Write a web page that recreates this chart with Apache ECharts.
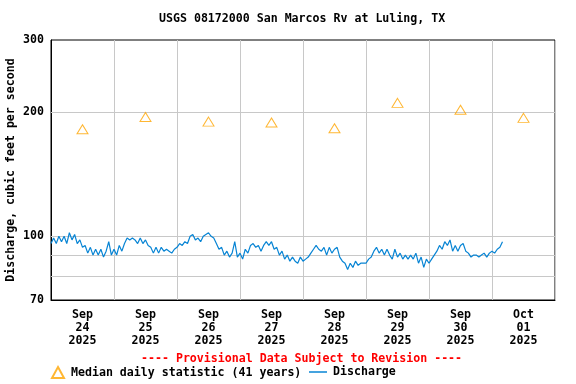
<!DOCTYPE html>
<html>
<head>
<meta charset="utf-8">
<script src="https://cdn.jsdelivr.net/npm/echarts@6/dist/echarts.min.js"></script>
<style>
html,body{margin:0;padding:0;background:#fff;}
#chart{width:576px;height:384px;}
</style>
</head>
<body>
<div id="chart"></div>
<script>
// ---- data ----
const titleText = 'USGS 08172000 San Marcos Rv at Luling, TX';
const provisionalText = '---- Provisional Data Subject to Revision ----';
const yAxisTitle = 'Discharge, cubic feet per second';
const tickMonths = ['Sep', 'Sep', 'Sep', 'Sep', 'Sep', 'Sep', 'Sep', 'Oct'];
const tickDays = ['24', '25', '26', '27', '28', '29', '30', '01'];
const tickYears = ['2025', '2025', '2025', '2025', '2025', '2025', '2025', '2025'];
const yTickLabels = [70, 100, 200, 300];
const yGridValues = [80, 90, 100, 200];
// median daily statistic, one per day (plotted at noon)
const medianDaily = [182, 195, 190, 189, 183, 211, 203, 194];
// discharge, hourly from Sep 24 00:00
const dischargeHourly = [
  96, 99, 96, 100, 97, 100, 96, 102, 98, 101, 96, 98,
  94, 95, 91, 94, 90, 93, 90, 93, 89, 92, 97, 90,
  93, 90, 95, 92, 96, 99, 98, 99, 98, 96, 99, 96,
  98, 95, 94, 91, 94, 91, 94, 92, 93, 92, 91, 93,
  94, 96, 95, 97, 96, 100, 101, 98, 99, 97, 100, 101,
  102, 100, 99, 96, 93, 94, 90, 92, 89, 91, 97, 89,
  91, 88, 93, 91, 95, 96, 94, 95, 92, 95, 97, 95,
  97, 93, 94, 90, 92, 88, 90, 87, 89, 87, 86, 89,
  87, 88, 89, 91, 93, 95, 93, 92, 94, 90, 94, 91,
  93, 94, 89, 87, 86, 83, 86, 84, 87, 85, 86, 86,
  86, 88, 89, 92, 94, 91, 93, 90, 93, 90, 88, 93,
  89, 91, 88, 90, 88, 90, 88, 91, 86, 89, 84, 88,
  86, 88, 90, 92, 95, 93, 97, 95, 98, 92, 95, 92,
  95, 96, 92, 91, 89, 90, 90, 89, 90, 91, 89, 91,
  92, 91, 93, 94, 97
];

const FONT = 'DejaVu Sans Mono';
const FS = 11.6;
const HOURS_PER_DAY = 24;
const totalHours = tickDays.length * HOURS_PER_DAY;
const LINE_COLOR = '#0784d4';
const MED_COLOR = '#ffa500';

const dischargeData = dischargeHourly.map((v, i) => [i, v]);
const medianData = medianDaily.map((v, i) => [i * HOURS_PER_DAY + 12, v]);
const textStyle = {fontFamily: FONT, fontSize: FS, fontWeight: 'bold', color: '#000'};

const chart = echarts.init(document.getElementById('chart'), null, {renderer: 'canvas'});
chart.setOption({
  animation: false,
  backgroundColor: '#fff',
  title: [
    {text: titleText, left: 159, top: 13, padding: 0,
     textStyle: Object.assign({}, textStyle)},
    {text: provisionalText, left: 141, top: 353, padding: 0,
     textStyle: Object.assign({}, textStyle, {color: '#ff0000'})}
  ],
  legend: [
    {data: [{name: 'Median daily statistic (41 years)', icon: 'emptyTriangle',
             itemStyle: {color: MED_COLOR, borderColor: MED_COLOR, borderWidth: 1}}],
     left: 51, top: 366, padding: 0, itemWidth: 12, itemHeight: 11, itemGap: 8,
     itemStyle: {color: MED_COLOR, borderColor: MED_COLOR, borderWidth: 1},
     textStyle: Object.assign({}, textStyle, {padding: [0, 0, 0, 2]})},
    {data: [{name: 'Discharge', icon: 'rect', itemStyle: {color: LINE_COLOR}}],
     left: 309, top: 366, padding: 0, itemWidth: 18, itemHeight: 1.5,
     textStyle: Object.assign({}, textStyle, {padding: [0, 0, 0, 1]})}
  ],
  grid: {left: 51, right: 21, top: 40, bottom: 84, show: true,
         outerBoundsMode: 'none', containLabel: false,
         borderColor: '#000', borderWidth: 1, backgroundColor: 'transparent'},
  xAxis: [
    {type: 'value', min: 0, max: totalHours, interval: HOURS_PER_DAY,
     axisLine: {show: true, lineStyle: {color: '#000'}},
     axisTick: {show: false}, axisLabel: {show: false},
     splitLine: {show: true, lineStyle: {color: '#c8c8c8', width: 1}}},
    {type: 'value', min: 0, max: totalHours, interval: HOURS_PER_DAY / 2, position: 'bottom',
     axisLine: {show: false}, axisTick: {show: false}, splitLine: {show: false},
     axisLabel: Object.assign({show: true, margin: 8, lineHeight: 13,
       formatter: function (v) {
         if (v % HOURS_PER_DAY !== 12) return '';
         const k = Math.floor(v / HOURS_PER_DAY);
         return tickMonths[k] + '\n' + tickDays[k] + '\n' + tickYears[k];
       }}, textStyle)}
  ],
  yAxis: {
    type: 'log', logBase: 10, min: 70, max: 300,
    name: yAxisTitle, nameLocation: 'middle', nameGap: 34, nameRotate: 90,
    nameTextStyle: Object.assign({}, textStyle),
    axisLine: {show: true, lineStyle: {color: '#000'}},
    axisTick: {show: false}, axisLabel: {show: false}, splitLine: {show: false}
  },
  series: [
    {name: 'Discharge', type: 'line', data: dischargeData, xAxisIndex: 0,
     symbol: 'none', showSymbol: false, z: 3,
     lineStyle: {color: LINE_COLOR, width: 1.2}, itemStyle: {color: LINE_COLOR},
     markLine: {silent: true, symbol: 'none', z: 1, animation: false,
       lineStyle: {color: '#c8c8c8', type: 'solid', width: 1},
       label: {show: false},
       data: yGridValues.map(v => ({yAxis: v}))}},
    {name: 'Median daily statistic (41 years)', type: 'scatter', data: medianData, xAxisIndex: 0,
     symbol: 'triangle', symbolSize: [11, 9], z: 4,
     itemStyle: {color: 'rgba(255,255,255,0)', borderColor: MED_COLOR, borderWidth: 1},
     markLine: {silent: true, symbol: 'none', animation: false,
       lineStyle: {color: 'rgba(0,0,0,0)', width: 0},
       label: Object.assign({show: true, position: 'start', distance: 7, formatter: '{c}'}, textStyle),
       data: yTickLabels.map(v => ({yAxis: v}))}}
  ]
});
</script>
</body>
</html>
